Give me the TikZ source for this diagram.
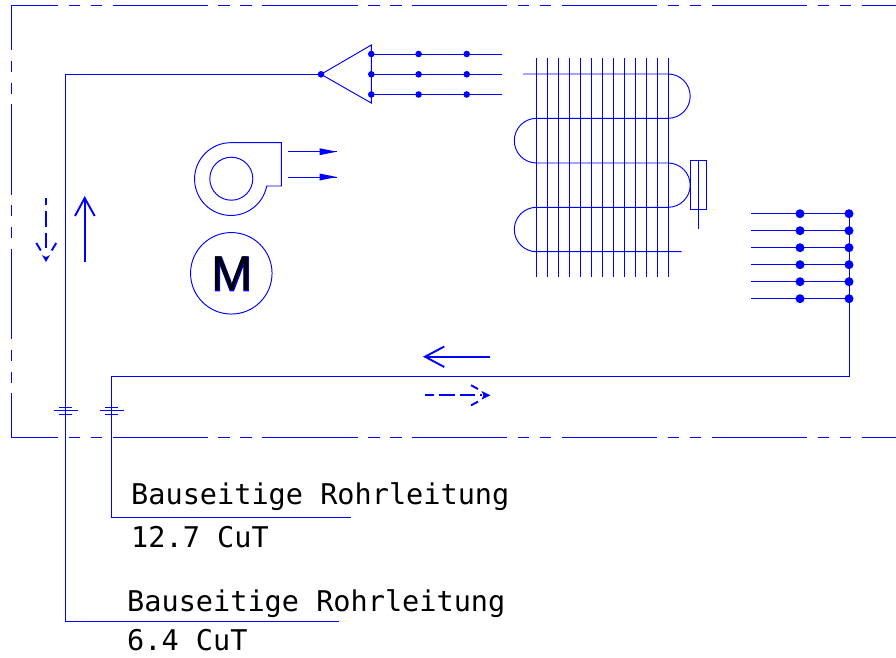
\documentclass[tikz,border=0pt]{standalone}
\usepackage{fontspec}
\setmainfont{DejaVu Sans Mono}
\newfontfamily\motorfont{Liberation Sans}
\newfontfamily\motorbold[FakeBold=2.5]{Liberation Sans}
\definecolor{pipeblue}{RGB}{0,0,255}
\tikzset{
  pipe/.style={draw=pipeblue,line width=0.95pt},
  heavy/.style={draw=pipeblue,line width=1.9pt},
  framehoriz/.style={pipe,dash pattern=on 95.3pt off 10.5pt on 11.5pt off 10.5pt on 11.5pt off 10.5pt,dash phase=48.3pt},
  framevert/.style={pipe,dash pattern=on 90.5pt off 10.5pt on 11pt off 11pt on 11pt off 10.5pt,dash phase=45.5pt},
  smalldot/.style={circle,fill=pipeblue,inner sep=0pt,minimum size=6.6pt},
  bigdot/.style={circle,fill=pipeblue,inner sep=0pt,minimum size=9pt},
  label/.style={anchor=base west,inner sep=0pt,font=\fontsize{28.55}{30}\selectfont,text=black},
  ring/.style={circle,draw=pipeblue,line width=0.95pt,inner sep=0pt},
}
\begin{document}
\begin{tikzpicture}[x=1pt,y=1pt]
\useasboundingbox (0,0) rectangle (896,-657);
% unit frame
\coordinate (fTL) at (11,-5);
\coordinate (fBL) at (11,-437);
\coordinate (fTR) at (896,-5);
\coordinate (fBR) at (896,-437);
\draw[framehoriz] (fTL) -- (fTR);
\draw[framehoriz] (fBL) -- (fBR);
\draw[framevert] (fTL) -- (fBL);
% suction distributor
\node[smalldot] (apex) at (321,-74.3) {};
\coordinate (triT) at (371.3,-45);
\coordinate (triB) at (371.3,-103);
\draw[pipe] (apex.center) -- (triT) -- (triB) -- cycle;
\foreach \n/\y in {a/54,b/74.3,c/94.5}{
  \node[smalldot] (\n1) at (371.3,-\y) {};
  \node[smalldot] (\n2) at (418.6,-\y) {};
  \node[smalldot] (\n3) at (466.7,-\y) {};
  \coordinate (\n4) at (501.5,-\y);
  \draw[pipe] (\n1.center) -- (\n4);
}
% suction line
\coordinate (p1end) at (338.5,-621.8);
\coordinate (p1low) at (65.5,-621.8);
\coordinate (p1top) at (65.5,-74.3);
\draw[pipe] (p1end) -- (p1low) -- (p1top) -- (apex.center);
% liquid distributor
\foreach \i/\y in {1/213.7,2/230.7,3/247.7,4/264.7,5/281.7,6/298.7}{
  \coordinate (l\i) at (751,-\y);
  \node[bigdot] (m\i) at (800,-\y) {};
  \node[bigdot] (r\i) at (849,-\y) {};
  \draw[pipe] (l\i) -- (r\i.center);
}
% liquid line
\coordinate (q1) at (849,-376);
\coordinate (q2) at (111.5,-376);
\coordinate (q3) at (111.5,-517.8);
\coordinate (q4) at (350.8,-517.8);
\draw[pipe] (r1.center) -- (q1) -- (q2) -- (q3) -- (q4);
% pipe break marks
\foreach \x in {65.5,111.5}{
  \draw[pipe] (\x-6.3,-407.3) -- (\x+6.3,-407.3);
  \draw[pipe] (\x-12,-410.8) -- (\x+12,-410.8);
  \draw[pipe] (\x-6.3,-414.3) -- (\x+6.3,-414.3);
}
% coil
\foreach \x in {536.7,547.7,558.7,569.7,580.4,591.4,602.4,613.4,624.4,635.4,646,657,668}{
  \draw[pipe] (\x,-58) -- (\x,-276.7);
}
\coordinate (coilIn) at (523,-74);
\coordinate (coilOut) at (681.7,-251.7);
\draw[pipe] (coilIn) -- (668,-74) arc[start angle=90,end angle=-90,x radius=22.2,y radius=22.15]
  -- (536.5,-118.3) arc[start angle=90,end angle=270,x radius=22.2,y radius=22.35]
  -- (668,-163) arc[start angle=90,end angle=-90,x radius=22.2,y radius=22.15]
  -- (536.5,-207.3) arc[start angle=90,end angle=270,x radius=22.2,y radius=22.2]
  -- (coilOut);
% sensor
\draw[pipe] (690.3,-160.3) rectangle (706.7,-209.3);
\draw[pipe] (698.3,-160.3) -- (698.3,-229.3);
% fan
\node[ring,minimum size=43pt] (fanhub) at (231.3,-178.7) {};
\draw[pipe] (266.7,-186) arc[start angle=-11,end angle=-270,radius=36.4] -- (281.3,-142.7) -- (281.3,-186) -- cycle;
\foreach \n/\y in {u/151.7,v/177}{
  \coordinate (\n0) at (287.7,-\y);
  \coordinate (\n1) at (336.7,-\y);
  \draw[pipe] (\n0) -- (\n1);
  \fill[pipeblue] (\n1) -- (319.5,-\y+3.5) -- (319.5,-\y-3.5) -- cycle;
}
% motor
\node[ring,minimum size=81.5pt] (motor) at (231.3,-273.3) {};
\node[text=pipeblue,inner sep=0pt,anchor=base,font=\motorbold\fontsize{49}{50}\selectfont] (Mout) at (231.8,-290.8) {M};
\node[text=black,inner sep=0pt,anchor=base,font=\motorfont\fontsize{49}{50}\selectfont] (Min) at (231.8,-290.8) {M};
% solid arrows
\coordinate (sa0) at (84.7,-261.7);
\coordinate (sa1) at (84.7,-198);
\draw[heavy] (sa0) -- (sa1);
\draw[heavy] (75,-216) -- (sa1) -- (94.7,-216);
\coordinate (sb0) at (489.5,-356.7);
\coordinate (sb1) at (425,-356.7);
\draw[heavy] (sb0) -- (sb1);
\draw[heavy] (444.3,-346.5) -- (sb1) -- (444.3,-367);
% dashed arrows
\coordinate (da0) at (46,-198);
\coordinate (da1) at (46,-255);
\coordinate (datip) at (46,-262);
\draw[heavy,dash pattern=on 7pt off 6pt on 16pt off 6pt on 15pt off 7pt] (da0) -- (da1);
\fill[pipeblue] (datip) -- (42,-255) -- (46,-257) -- (50,-255) -- cycle;
\draw[heavy] (36.3,-243) -- (40.8,-250.5);
\draw[heavy] (56.2,-243) -- (51.7,-250.5);
\coordinate (db0) at (425,-395.3);
\coordinate (db1) at (482,-395.3);
\coordinate (dbtip) at (490.5,-395.3);
\draw[heavy,dash pattern=on 9pt off 5pt on 16pt off 5pt on 15pt off 5pt] (db0) -- (db1);
\fill[pipeblue] (dbtip) -- (481.5,-391) -- (483.5,-395.3) -- (481.5,-399.6) -- cycle;
\draw[heavy] (471,-385.2) -- (478,-389);
\draw[heavy] (471,-405.4) -- (478,-401.6);
% labels
\node[label] (t1) at (131,-504.3) {Bauseitige Rohrleitung};
\node[label] (t2) at (131,-547.3) {12.7 CuT};
\node[label] (t3) at (127,-611) {Bauseitige Rohrleitung};
\node[label] (t4) at (127,-650) {6.4 CuT};
\end{tikzpicture}
\end{document}
